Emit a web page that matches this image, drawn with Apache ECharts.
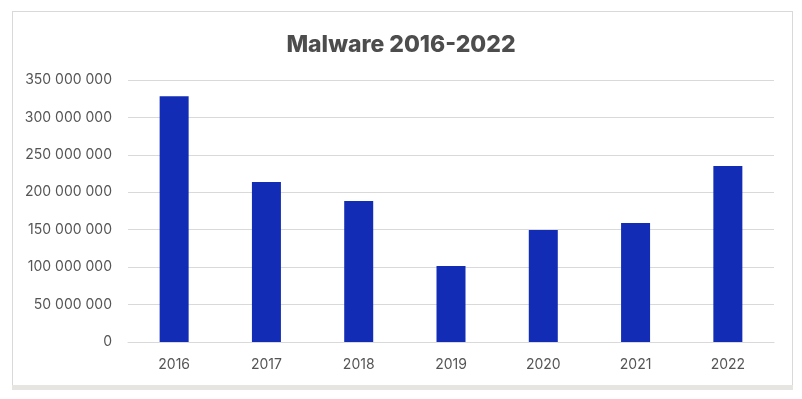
<!DOCTYPE html>
<html>
<head>
<meta charset="utf-8">
<script src="https://cdn.jsdelivr.net/npm/echarts@6/dist/echarts.min.js"></script>
<style>
  html, body { margin: 0; padding: 0; background: #fff; }
  #chart { position: absolute; left: 0; top: 0; width: 802px; height: 399px; }
  .frame { position: absolute; left: 12px; top: 11px; width: 779px; height: 373px; border: 1px solid #d9d9d9; border-bottom: none; pointer-events: none; }
  .band { position: absolute; left: 12px; top: 385px; width: 781px; height: 5px; background: #e7e5e2; pointer-events: none; }
</style>
</head>
<body>
<div id="chart"></div>
<div class="frame"></div>
<div class="band"></div>
<script>
// chart data
const years = ['2016', '2017', '2018', '2019', '2020', '2021', '2022'];
const malwareCount = [328400000, 213600000, 188300000, 101500000, 149500000, 158900000, 235000000];
const yTicks = [0, 50000000, 100000000, 150000000, 200000000, 250000000, 300000000, 350000000];

const fontName = 'Inter, "Noto Sans", sans-serif';

// "350 000 000" style labels
const spaced = v => String(v).replace(/\B(?=(\d{3})+(?!\d))/g, ' ');

const chart = echarts.init(document.getElementById('chart'));

chart.setOption({
  animation: false,
  title: {
    text: 'Malware 2016-2022',
    left: 'center',
    top: 29,
    textStyle: {
      fontFamily: fontName,
      fontSize: 23,
      fontWeight: 800,
      color: '#4d4d4d'
    }
  },
  grid: {
    left: 128,
    right: 28,
    top: 80,
    bottom: 57
  },
  xAxis: {
    type: 'category',
    data: years,
    axisLine: { lineStyle: { color: '#d9d9d9' } },
    axisTick: { show: false },
    axisLabel: {
      margin: 16,
      fontFamily: fontName,
      fontSize: 14,
      color: '#555'
    }
  },
  yAxis: {
    type: 'value',
    min: yTicks[0],
    max: yTicks[yTicks.length - 1],
    interval: yTicks[1] - yTicks[0],
    axisLine: { show: false },
    axisTick: { show: false },
    splitLine: { lineStyle: { color: '#d9d9d9' } },
    axisLabel: {
      margin: 16,
      fontFamily: fontName,
      fontSize: 14,
      color: '#555',
      formatter: spaced
    }
  },
  series: [{
    type: 'bar',
    data: malwareCount,
    barWidth: 29,
    itemStyle: { color: '#132cb5' }
  }]
});
</script>
</body>
</html>
